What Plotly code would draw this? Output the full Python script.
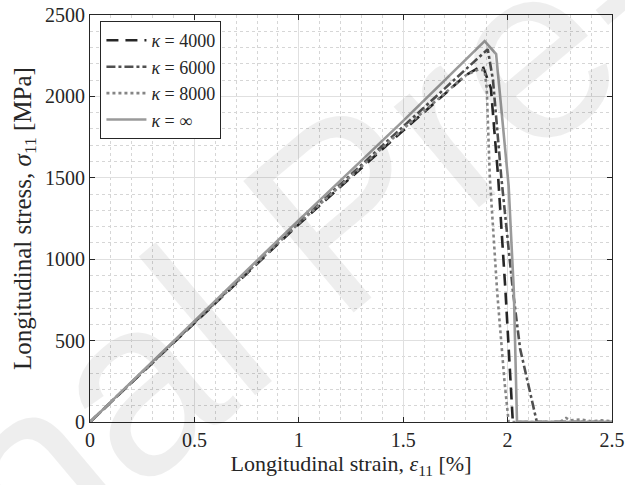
import plotly.graph_objects as go

# kappa = 4000 (dashed)
x_4000 = [0, 1.0, 1.5, 1.8, 1.88, 1.92, 1.955, 1.99, 2.025, 2.2, 2.5]
y_4000 = [0, 1215, 1790, 2130, 2190, 2050, 1500, 800, 0, 0, 0]
# kappa = 6000 (dash-dot)
x_6000 = [0, 1.0, 1.5, 1.905, 1.93, 1.97, 2.026, 2.06, 2.14, 2.3, 2.5]
y_6000 = [0, 1225, 1815, 2290, 2100, 1500, 800, 450, 0, 0, 0]
# kappa = 8000 (dotted)
x_8000 = [0, 1.0, 1.5, 1.8, 1.86, 1.89, 1.9, 1.915, 1.95, 1.985, 2.005, 2.25, 2.28, 2.3, 2.35, 2.4, 2.45, 2.5]
y_8000 = [0, 1220, 1800, 2130, 2165, 2160, 2050, 1500, 800, 250, 0, 0, 25, 10, 15, 5, 10, 5]
# kappa = infinity (solid)
x_inf = [0, 1.0, 1.5, 1.89, 1.945, 1.99, 2.005, 2.03, 2.045, 2.5]
y_inf = [0, 1240, 1850, 2340, 2260, 1650, 1450, 800, 0, 0]

x_ticks = [0, 0.5, 1, 1.5, 2, 2.5]
y_ticks = [0, 500, 1000, 1500, 2000, 2500]

series = [
    ("<i>κ</i> = 4000", x_4000, y_4000, "#262626", "12px,7px"),
    ("<i>κ</i> = 6000", x_6000, y_6000, "#505050", "9px,3px,3px,3px"),
    ("<i>κ</i> = 8000", x_8000, y_8000, "#858585", "3px,3px"),
    ("<i>κ</i> = ∞", x_inf, y_inf, "#9a9a9a", "solid"),
]

fig = go.Figure()
for name, xs, ys, col, dash in series:
    fig.add_trace(go.Scatter(x=xs, y=ys, mode="lines", name=name,
                             line=dict(color=col, width=2.6, dash=dash)))

serif = "Liberation Serif, DejaVu Serif, serif"
axis_common = dict(
    showline=True, linecolor="#262626", linewidth=1, mirror="ticks",
    ticks="inside", ticklen=5, tickcolor="#262626",
    showgrid=True, gridcolor="#e0e0e0", gridwidth=1,
    zeroline=False, automargin=False,
    tickfont=dict(family=serif, size=20, color="#262626"),
)
fig.update_xaxes(range=[0, 2.5], tickvals=x_ticks, ticktext=[str(v) for v in x_ticks],
                 minor=dict(dtick=0.1, showgrid=True, gridcolor="#d6d6d6", griddash="dot", gridwidth=1),
                 title=dict(text="Longitudinal strain, <i>ε</i><sub>11</sub> [%]",
                            font=dict(family=serif, size=22, color="#262626"), standoff=4),
                 **axis_common)
fig.update_yaxes(range=[0, 2500], tickvals=y_ticks, ticktext=[str(v) for v in y_ticks],
                 minor=dict(dtick=100, showgrid=True, gridcolor="#d6d6d6", griddash="dot", gridwidth=1),
                 title=dict(text="Longitudinal stress, <i>σ</i><sub>11</sub> [MPa]",
                            font=dict(family=serif, size=25, color="#262626"), standoff=6),
                 **axis_common)

fig.add_annotation(text="Journal Pre-proof", xref="paper", yref="paper",
                   x=0.48, y=0.52, showarrow=False, textangle=-40,
                   font=dict(family="Liberation Sans, Arial, sans-serif", size=250,
                             color="rgba(0,0,0,0.065)"))

fig.update_layout(
    width=625, height=485,
    margin=dict(l=90, r=13, t=15, b=63),
    paper_bgcolor="white", plot_bgcolor="white",
    showlegend=True,
    legend=dict(x=0.02, y=0.985, xanchor="left", yanchor="top",
                bgcolor="white", bordercolor="#262626", borderwidth=1,
                font=dict(family=serif, size=18, color="#262626"),
                tracegroupgap=0, itemwidth=40),
)

fig.write_html("out.html")
